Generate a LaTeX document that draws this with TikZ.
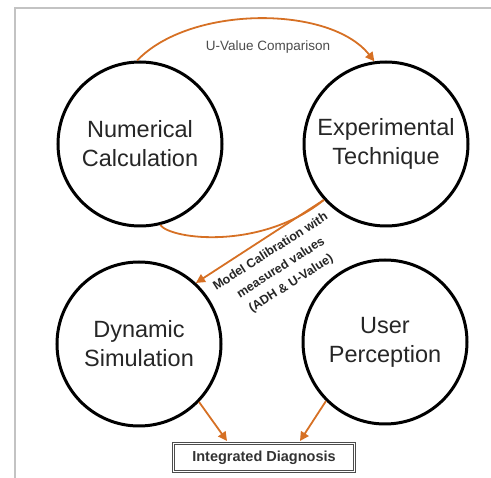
\documentclass[tikz,border=0pt]{standalone}
\usepackage{fontspec}
\setmainfont{Liberation Sans}
\usetikzlibrary{arrows.meta}
\definecolor{flowor}{RGB}{214,112,36}
\definecolor{framegray}{RGB}{195,195,195}
\tikzset{
  phase/.style={draw, circle, line width=3pt, minimum size=164pt, inner sep=0pt,
    align=center, text=black!85, font=\fontsize{23.5}{29}\selectfont},
  flow/.style={draw=flowor, line width=1.8pt},
  link/.style={flow, -{Triangle[length=9pt,width=9pt]}},
}
\begin{document}
\begin{tikzpicture}[x=1pt, y=-1pt]
    \useasboundingbox (0,0) rectangle (491,478);

% frame
    \draw[framegray, line width=2pt] (15,478) -- (15,8) -- (491,8);

% circles
    \node[phase] (num) at (140,144) {Numerical\\Calculation};
    \node[phase] (exp) at (386,144) {Experimental\\Technique};
    \node[phase] (dyn) at (139,344) {Dynamic\\Simulation};
    \node[phase] (usr) at (385,342) {User\\Perception};

% diagnosis box
    \node[draw=black!70, double=white, double distance=1pt, line width=0.7pt,
          minimum width=181pt, minimum height=28pt, inner sep=0pt,
          font=\bfseries\fontsize{14.5}{17}\selectfont, text=black!80]
          (diag) at (264,457.5) {Integrated Diagnosis};
    \coordinate (inL) at (227,441);
    \coordinate (inR) at (300,441);

% u-value comparison
    \draw[link] (num.92) .. controls (190,5) and (330,5) .. (exp.98);
    \node[font=\fontsize{13.5}{16}\selectfont, text=black!70] (uval) at (268,47) {U-Value Comparison};

% calibration
    \coordinate (cal) at (exp.-138);
    \draw[flow] (num.-76) .. controls (172,240) and (262,250) .. (cal);
    \draw[link] (cal) -- (dyn.47);
    \node[rotate=32.6, align=center, text=black!85,
          font=\bfseries\fontsize{12.5}{19}\selectfont]
          (calib) at (281,268) {Model Calibration with\\measured values\\(ADH \& U-Value)};

% into diagnosis
    \draw[link] (dyn.-44) -- (inL);
    \draw[link] (usr.-135) -- (inR);

\end{tikzpicture}
\end{document}
